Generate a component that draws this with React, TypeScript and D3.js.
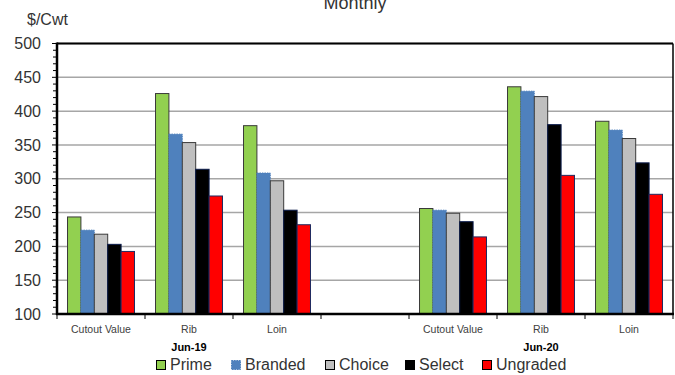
import React from "react";
import * as d3 from "d3";

const categories = ["Cutout Value", "Rib", "Loin", "", "Cutout Value", "Rib", "Loin"];
const periodLabels = ["Jun-19", "Jun-20"];
const periodCenterIndex = [1, 5];
const seriesNames = ["Prime", "Branded", "Choice", "Select", "Ungraded"];
const prime = [243.5, 426, 378.5, null, 256, 436, 385];
const branded = [224, 366, 308.5, null, 253.5, 429.5, 372];
const choice = [218, 353.5, 297, null, 249, 421.5, 359.5];
const select = [203, 314, 253.5, null, 236.5, 380, 323.5];
const ungraded = [192.5, 274.5, 232, null, 214, 305, 277];
const yTicks = [100, 150, 200, 250, 300, 350, 400, 450, 500];

const seriesValues = [prime, branded, choice, select, ungraded];
const fills = ["#92D050", "#4F81BD", "#BFBFBF", "#000000", "#FF0000"];
const strokes = ["#3a3a3a", "#4F81BD", "#3a3a3a", "#0a1a4a", "#1f2a60"];
const dashes = [null, "1.5,1", null, null, null];

const W = 675, H = 375;
const L = 57, R = 673, T = 43.5, B = 314;
const sans = "'Liberation Sans', Arial, sans-serif";

export default function App() {
  const x = d3.scaleBand<number>().domain(categories.map((_, i) => i)).range([L, R]).padding(0);
  const x1 = d3.scaleBand<string>().domain(seriesNames).range([0, x.bandwidth()]).paddingInner(0).paddingOuter(0.785);
  const y = d3.scaleLinear().domain([100, 500]).range([B, T]);
  const minor = d3.range(100, 501, 10);
  const boundaries = d3.range(categories.length + 1).map((i) => L + i * x.step());

  const legendX = [156, 231, 325, 405, 482];

  return (
    <svg width={W} height={H} style={{ position: "absolute", left: 0, top: 0, background: "#fff" }}>
      <text x={355} y={9} textAnchor="middle" fontFamily={sans} fontSize={18} fill="#333">Monthly</text>
      <text x={27} y={25} fontFamily={sans} fontSize={16} fill="#333">$/Cwt</text>

      {yTicks.filter((t) => t > 100).map((t) => (
        <line key={"g" + t} x1={L} x2={R} y1={y(t)} y2={y(t)} stroke="#a6a6a6" strokeWidth={1.5} />
      ))}

      {seriesNames.map((s, si) =>
        seriesValues[si].map((v, ci) =>
          v == null ? null : (
            <rect
              key={s + ci}
              x={(x(ci) as number) + (x1(s) as number)}
              y={y(v)}
              width={x1.bandwidth()}
              height={y(100) - y(v)}
              fill={fills[si]}
              stroke={strokes[si]}
              strokeWidth={1}
              strokeDasharray={dashes[si] || undefined}
            />
          )
        )
      )}

      <line x1={L} x2={R} y1={T} y2={T} stroke="#000" strokeWidth={2} />
      <line x1={R} x2={R} y1={T} y2={B} stroke="#000" strokeWidth={1.5} />
      <line x1={L} x2={L} y1={T - 1} y2={B + 1} stroke="#000" strokeWidth={2.5} />
      <line x1={L - 1} x2={R + 1} y1={B} y2={B} stroke="#000" strokeWidth={2.5} />

      {minor.map((t) => (
        <line key={"m" + t} x1={t % 50 === 0 ? L - 5 : L - 4} x2={L} y1={y(t)} y2={y(t)} stroke="#000" strokeWidth={1} />
      ))}
      {yTicks.map((t) => (
        <text key={"yt" + t} x={41} y={y(t)} dy="0.35em" textAnchor="end" fontFamily={sans} fontSize={16} fill="#333">{t}</text>
      ))}

      {boundaries.map((bx, i) => (
        <line key={"xt" + i} x1={bx} x2={bx} y1={B} y2={B + 5} stroke="#000" strokeWidth={1} />
      ))}
      {categories.map((c, i) => (
        <text key={"c" + i} x={(x(i) as number) + x.bandwidth() / 2} y={333} textAnchor="middle" fontFamily={sans} fontSize={10.5} fill="#404040">{c}</text>
      ))}
      {periodLabels.map((p, i) => (
        <text key={p} x={(x(periodCenterIndex[i]) as number) + x.bandwidth() / 2} y={351} textAnchor="middle" fontFamily={sans} fontSize={11} fontWeight="bold" fill="#000">{p}</text>
      ))}

      {seriesNames.map((s, si) => (
        <g key={"lg" + s} transform={`translate(${legendX[si]},360)`}>
          <rect x={0.5} y={0.5} width={9} height={9} fill={fills[si]} stroke={si === 1 ? "#4F81BD" : "#000"} strokeWidth={1} strokeDasharray={dashes[si] || undefined} />
          <text x={14} y={10} fontFamily={sans} fontSize={16} fill="#333">{s}</text>
        </g>
      ))}
    </svg>
  );
}
